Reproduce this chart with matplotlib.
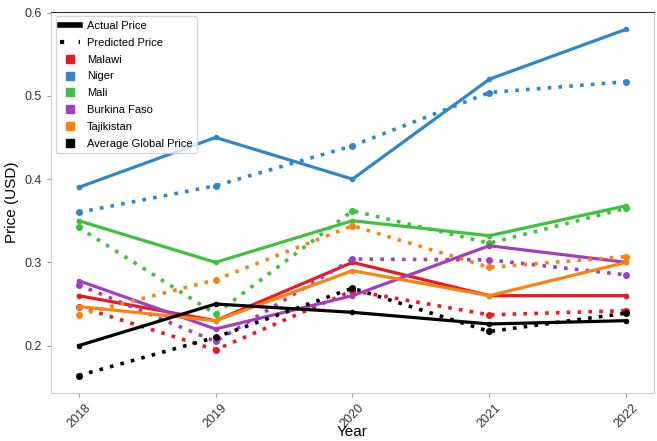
import matplotlib
matplotlib.use('Agg')
from matplotlib import pyplot as plt
from matplotlib.lines import Line2D

plt.rcParams['font.family'] = ['Liberation Sans', 'DejaVu Sans']

years = [2018, 2019, 2020, 2021, 2022]

# 실제 가격
malawi_actual = [0.260, 0.230, 0.300, 0.260, 0.260]
niger_actual = [0.390, 0.450, 0.400, 0.520, 0.580]
mali_actual = [0.350, 0.300, 0.350, 0.332, 0.368]
burkina_actual = [0.278, 0.220, 0.260, 0.320, 0.300]
tajik_actual = [0.247, 0.230, 0.290, 0.260, 0.300]
global_actual = [0.200, 0.250, 0.240, 0.226, 0.230]

# 예측 가격
malawi_pred = [0.247, 0.195, 0.266, 0.237, 0.242]
niger_pred = [0.360, 0.392, 0.440, 0.504, 0.517]
mali_pred = [0.342, 0.238, 0.362, 0.323, 0.365]
burkina_pred = [0.273, 0.205, 0.304, 0.303, 0.285]
tajik_pred = [0.237, 0.279, 0.344, 0.294, 0.307]
global_pred = [0.164, 0.210, 0.269, 0.217, 0.239]

names = ['Malawi', 'Niger', 'Mali', 'Burkina Faso', 'Tajikistan', 'Average Global Price']
colors = ['#e8191f', '#2f86c9', '#3cc23c', '#a13fbf', '#fb820f', '#000000']
actual = [malawi_actual, niger_actual, mali_actual, burkina_actual, tajik_actual, global_actual]
pred = [malawi_pred, niger_pred, mali_pred, burkina_pred, tajik_pred, global_pred]

fig, ax = plt.subplots(figsize=(6.57, 4.41), dpi=100)
fig.subplots_adjust(left=0.078, right=0.995, top=0.973, bottom=0.109)

for a, p, c in zip(actual, pred, colors):
    ax.plot(years, a, color=c, lw=2.3, marker='o', ms=3)
    ax.plot(years, p, color=c, lw=2.6, ls=(0, (1, 2)), marker='o', ms=4)

ax.set_xticks(years)
ax.set_xticklabels([str(y) for y in years], rotation=45, fontsize=9, color='#333333')
ax.set_yticks([0.2, 0.3, 0.4, 0.5, 0.6])
ax.set_yticklabels(['0.2', '0.3', '0.4', '0.5', '0.6'], fontsize=9, color='#333333')
ax.tick_params(length=3, color='#999999')
ax.set_xlabel('Year', fontsize=11, va='center')
ax.xaxis.set_label_coords(0.5, -0.103)
ax.set_ylabel('Price (USD)', fontsize=11)

for s in ['left', 'bottom', 'right']:
    ax.spines[s].set_color('#cccccc')
ax.spines['top'].set_color('#333333')

handles = [Line2D([], [], color='black', lw=4),
           Line2D([], [], color='black', lw=3, ls=(0, (1, 3.5)))]
labels = ['Actual Price', 'Predicted Price']
for n, c in zip(names, colors):
    handles.append(Line2D([], [], color=c, ls='none', marker='s', ms=6))
    labels.append(n)
ax.legend(handles, labels, loc='upper left', fontsize=8, edgecolor='#cccccc',
          handlelength=1.8, handletextpad=0.6, labelspacing=0.62, borderaxespad=0.4)

plt.savefig('out.png')
